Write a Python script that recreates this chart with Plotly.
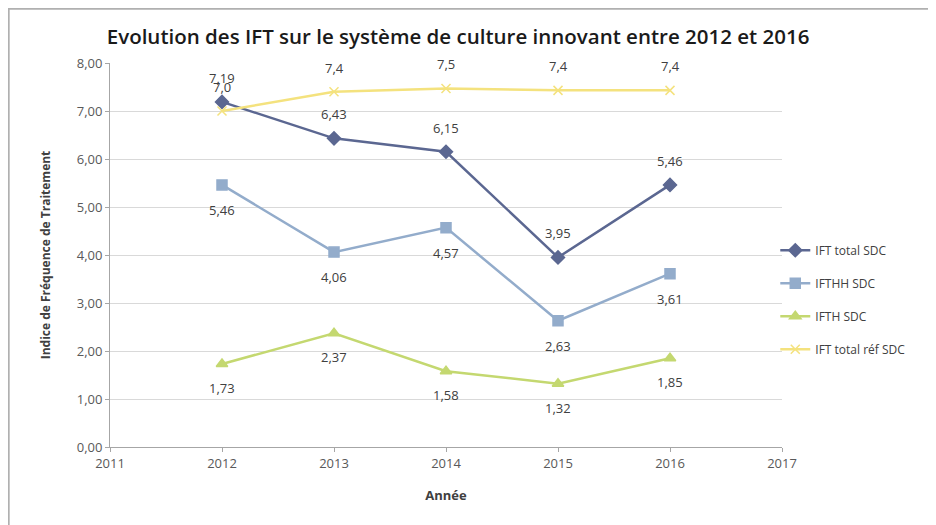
import plotly.graph_objects as go

years = [2012, 2013, 2014, 2015, 2016]
ift_total = [7.19, 6.43, 6.15, 3.95, 5.46]
ifthh = [5.46, 4.06, 4.57, 2.63, 3.61]
ifth = [1.73, 2.37, 1.58, 1.32, 1.85]
ift_ref = [7.0, 7.4, 7.47, 7.43, 7.43]

names = ["IFT total SDC", "IFTHH SDC", "IFTH SDC", "IFT total réf SDC"]
colors = ["#5b6791", "#93accb", "#c4d870", "#f4e27e"]
symbols = ["diamond", "square", "triangle-up", "x-thin"]
label_shift = [24, -25, -24, 24]
decimals = [2, 2, 2, 1]
series = [ift_total, ifthh, ifth, ift_ref]

FONT = "Open Sans"
fig = go.Figure()
for i, (nm, vals) in enumerate(zip(names, series)):
    fig.add_trace(go.Scatter(
        x=years, y=vals, name=nm, mode="lines+markers",
        line=dict(color=colors[i], width=2.5),
        marker=dict(symbol=symbols[i], size=10 if i < 3 else 9, color=colors[i],
                    line=dict(color=colors[i], width=1.5)),
        legendgroup=nm, cliponaxis=False,
    ))
    for x, v in zip(years, vals):
        fig.add_annotation(x=x, y=v, xref="x", yref="y",
                           text=f"{v:.{decimals[i]}f}".replace(".", ","),
                           showarrow=False, yshift=label_shift[i],
                           font=dict(family=FONT, size=13, color="#404040"))

fig.update_layout(
    width=928, height=517,
    margin=dict(l=102, r=154, t=55, b=78),
    paper_bgcolor="white", plot_bgcolor="white",
    separators=", ",
    title=dict(text="Evolution des IFT sur le système de culture innovant entre 2012 et 2016",
               x=0.485, xanchor="center", y=0.945, yanchor="middle",
               font=dict(family=FONT, size=20.5, color="#1a1a1a", weight=600)),
    legend=dict(x=0.99, xanchor="left", y=0.55, yanchor="top",
                font=dict(family=FONT, size=12, color="#404040"),
                tracegroupgap=14, bgcolor="rgba(0,0,0,0)"),
    xaxis=dict(range=[2011, 2017], dtick=1, tick0=2011, tickformat="d",
               showgrid=False, showline=True, linecolor="#a6a6a6", linewidth=1,
               ticks="outside", ticklen=4, tickcolor="#a6a6a6",
               tickfont=dict(family=FONT, size=13, color="#595959"),
               title=dict(text="<b>Année</b>", font=dict(family=FONT, size=13, color="#404040"),
                          standoff=20),
               zeroline=False),
    yaxis=dict(range=[0, 8], dtick=1, tickformat=".2f",
               showgrid=True, gridcolor="#d9d9d9", gridwidth=1,
               showline=True, linecolor="#a6a6a6", linewidth=1,
               ticks="outside", ticklen=4, tickcolor="#a6a6a6",
               tickfont=dict(family=FONT, size=13, color="#595959"),
               title=dict(text="<b>Indice de Fréquence de Traitement</b>",
                          font=dict(family=FONT, size=12, color="#404040"), standoff=23),
               zeroline=False),
)

# chart frame (top and left edges of the figure)
fig.add_shape(type="rect", xref="paper", yref="paper",
              x0=-102 / 672 + 0.001, x1=1 + 154 / 672 + 0.02,
              y0=-78 / 384 - 0.02, y1=1 + 55 / 384 - 0.002,
              line=dict(color="#b0b0b0", width=2), layer="below")

fig.write_html("out.html")
